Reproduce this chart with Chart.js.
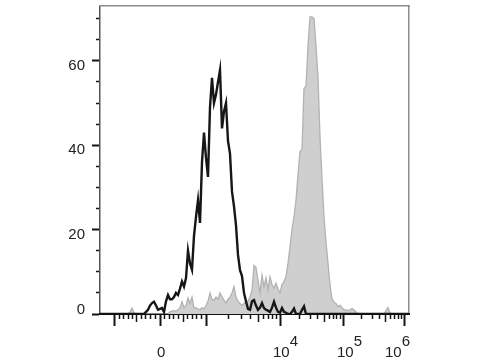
<!DOCTYPE html>
<html>
<head>
<meta charset="utf-8">
<script src="https://cdn.jsdelivr.net/npm/chart.js@4"></script>
<style>html,body{margin:0;padding:0;background:#fff;}canvas{display:block;}</style>
</head>
<body>
<canvas id="c" width="480" height="360"></canvas>
<script>
// display channel of each histogram bin (biexponential display scale, 0..309)
const binChannels = [
0,2,4,6,8,10,12,14,16,18,20,22,24,26,28,30,32,34,36,38,40,42,44,46,48,50,52,54,56,58,
60,62,64,66,68,70,72,74,76,78,80,82,84,86,88,90,92,94,96,98,100,102,104,106,108,110,112,114,116,118,
120,122,124,126,128,130,132,134,136,138,140,142,144,146,148,150,152,154,156,158,160,162,164,166,168,170,172,174,176,178,
180,182,184,186,188,190,192,194,196,198,200,202,204,206,208,210,212,214,216,218,220,222,224,226,228,230,232,234,236,238,
240,242,244,246,248,250,252,254,256,258,260,262,264,266,268,270,272,274,276,278,280,282,284,286,288,290,292,294,296,298,
300,302,304,306,308];

// unstained / isotype control (black outline)
const controlCounts = [
0,0,0,0,0,0,0,0,0,0,0,0,0,0,0,0,0,0,0,0,0,0,0,
0.5,1,2,2.6,2.9,2,1,1.2,1.4,0.5,
3,4.5,3.5,3.5,4,5,4.5,6,7.7,6.5,
8.5,15,12,10.5,18.5,23,27,21.6,36,43,
37,32.5,49,56,50,52,55,57.8,44,48,
50,41,38,29,25.5,21,14,10.4,9,5,
3,1.2,1,3,3.3,2,1,1.5,2.6,1.4,
1,0.8,0.5,1.5,2.9,1.5,0.5,0.3,1.4,0.5,
0.3,0,0,0.5,1.3,0,0,0,1,1.8,
0,
0,0,0,0,0,0,0,0,0,0,0,0,0,0,0,0,0,0,0,0,0,0,0,0,0,0,
0,0,0,0,0,0,0,0,0,0,0,0,0,0,0,0,0,0,0,0,0,0,0,0,0];

// stained sample (filled grey)
const stainedCounts = [
0,0,0,0,0,0,0,0,0,0,0,0,0,0,0,
0.5,1.4,0.3,
0,0,0,0,0,0,0,0,0,0,0,0,0,0,0,0,0,
0.5,0.7,0.8,0.7,1,1.5,2.9,1.5,2,3.8,
2.5,4,1.4,1.5,1.2,1,1.5,1.2,2,3,
5,3.5,3.3,4,3.5,5,4,3.3,2.6,3.5,
4,5,6.5,4,3,2.5,2,2.5,2.9,3,
4,5.7,11.5,11,8,5,9.2,6.5,8.5,5.7,
8.8,7,6.1,7.3,6,5,7,7.7,8.8,12,
16,20,23,27,33,38.5,39,53.5,54,63.5,
70.4,70.4,70,63.5,56,42,32,23,17,12,
7,3.5,2.8,2.5,1.7,2.1,1.5,1,1,0.8,
1,1.3,1,0.5,
0,0,0,0,0,0,0,0,0,0,0,0,0,0,
0.8,1.5,0.3,
0,0,0,0,0,0,0,0,0];

// x axis ticks (display channels)
const xMajorTicks = [14, 60, 106, 180, 243, 304];
const xMediumTicks = [36.5, 83, 158, 224, 285.5];
const xMinorTicks = [19, 23.5, 28, 32, 41, 45.5, 50, 55,
  64.6, 69.2, 73.8, 78.4, 87.6, 92.2, 96.8, 101.4,
  128.3, 141.3, 150.5, 163.6, 168.5, 172.8, 176.6,
  199, 210.1, 217.9, 229, 233.2, 236.9, 240.1,
  261.4, 272.1, 279.7, 290.5, 294.6, 298.2, 301.4];
const xLabelAnchors = [57, 173, 237, 285];
const xLabels = [['', '0'], ['    4', '10'], ['    5', '10'], ['    6', '10']];

// y axis ticks (count)
const yMajorTicks = [0, 20, 40, 60];
const yMinorTicks = [5, 10, 15, 25, 30, 35, 45, 50, 55, 65, 70];
const yMax = 73;
const xMax = 309;

const toPts = (ys) => ys.map((y, i) => ({x: binChannels[i], y}));
const setTicks = (vals) => (axis) => { axis.ticks = vals.map(v => ({value: v})); };
const FONT = {family: '"Liberation Sans", Arial, sans-serif', size: 15};

const tickAxis = (vals, len, w) => ({
  axis: 'x', type: 'linear', min: 0, max: xMax, position: {y: 0},
  afterBuildTicks: setTicks(vals),
  ticks: {display: false},
  border: {display: false},
  grid: {display: true, drawOnChartArea: false, drawTicks: true, tickLength: len, tickWidth: w, tickColor: '#141414'}
});

new Chart(document.getElementById('c'), {
  type: 'line',
  data: {
    datasets: [
      {data: toPts(controlCounts), borderColor: '#161616', borderWidth: 2.4, fill: false, pointRadius: 0, tension: 0, xAxisID: 'x', yAxisID: 'y'},
      {data: toPts(stainedCounts), borderColor: '#b2b2b2', backgroundColor: '#cfcfcf', borderWidth: 1.3, fill: 'origin', pointRadius: 0, tension: 0, xAxisID: 'x', yAxisID: 'y'}
    ]
  },
  options: {
    responsive: false, animation: false, devicePixelRatio: 1,
    layout: {padding: {left: 0, right: 71, top: 6, bottom: 46}},
    plugins: {legend: {display: false}, tooltip: {enabled: false}},
    scales: {
      y: {
        type: 'linear', position: 'left', min: 0, max: yMax,
        afterBuildTicks: setTicks(yMajorTicks),
        afterFit: (s) => { s.width = 100; s.paddingTop = 0; s.paddingBottom = 0; },
        ticks: {font: {...FONT, lineHeight: 1.2}, color: '#222', padding: 7, labelOffset: 5,
          callback: (v) => v === 0 ? ['0', ''] : String(v)},
        border: {display: true, color: '#555', width: 1.5},
        grid: {display: true, drawOnChartArea: false, tickLength: 8, tickWidth: 2, tickColor: '#141414'}
      },
      yMinor: {
        axis: 'y', type: 'linear', min: 0, max: yMax, position: {x: 0},
        afterBuildTicks: setTicks(yMinorTicks),
        ticks: {display: false},
        border: {display: false},
        grid: {display: true, drawOnChartArea: false, tickLength: 4, tickWidth: 1.5, tickColor: '#141414'}
      },
      yRight: {
        axis: 'y', type: 'linear', min: 0, max: yMax, position: {x: xMax},
        ticks: {display: false}, grid: {display: false},
        border: {display: true, color: '#8c8c8c', width: 1.5}
      },
      x: {
        ...tickAxis(xMajorTicks, 11, 2),
        border: {display: true, color: '#111', width: 2}
      },
      xMedium: tickAxis(xMediumTicks, 8, 1.5),
      xMinor: tickAxis(xMinorTicks, 5, 1.5),
      xTop: {
        axis: 'x', type: 'linear', min: 0, max: xMax, position: {y: yMax},
        ticks: {display: false}, grid: {display: false},
        border: {display: true, color: '#8c8c8c', width: 1.5}
      },
      xLabel: {
        axis: 'x', type: 'linear', min: 0, max: xMax, position: {y: 0},
        afterBuildTicks: setTicks(xLabelAnchors),
        afterFit: (s) => { s.paddingLeft = 0; s.paddingRight = 0; },
        ticks: {display: true, autoSkip: false, maxRotation: 0, minRotation: 0, align: 'start', padding: 23,
          font: {...FONT, lineHeight: 0.7}, color: '#222',
          callback: (v, i) => xLabels[i]},
        border: {display: false},
        grid: {display: false, drawTicks: false}
      }
    }
  }
});
</script>
</body>
</html>
